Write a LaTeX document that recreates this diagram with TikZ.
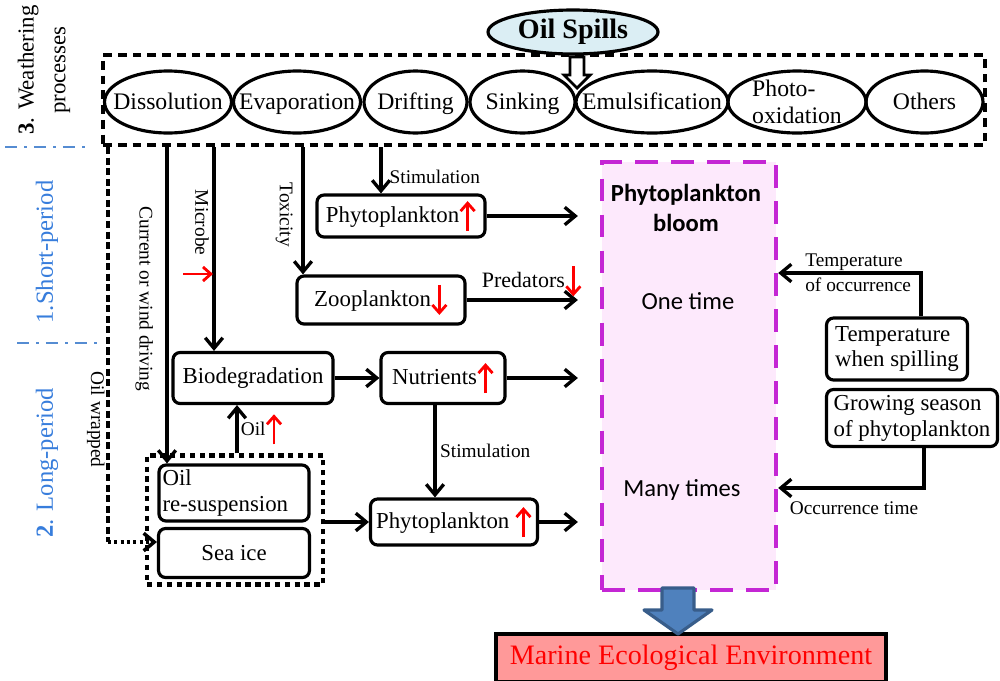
\documentclass[tikz,border=0pt]{standalone}
\usepackage{fontspec}
\setmainfont{Liberation Serif}
\newfontfamily\calib{Carlito}
\usetikzlibrary{shapes.geometric,arrows.meta}

\definecolor{spillblue}{RGB}{219,238,244}
\definecolor{bloomfill}{RGB}{253,233,252}
\definecolor{bloomedge}{RGB}{196,38,212}
\definecolor{periodblue}{RGB}{55,125,220}
\definecolor{sepblue}{RGB}{85,140,210}
\definecolor{arrowblue}{RGB}{79,129,189}
\definecolor{arrowedge}{RGB}{56,93,138}
\definecolor{marinefill}{RGB}{255,153,153}

\tikzset{
  wbox/.style={draw, line width=2.5pt, dash pattern=on 5pt off 3.4pt},
  proc/.style={ellipse, draw, line width=1.8pt, minimum height=1.24cm, inner sep=0pt},
  ptext/.style={font=\fontsize{13.5}{15.3}\selectfont, align=left, inner sep=0pt},
  pline/.style={ptext, text height=10pt, text depth=1pt},
  spill/.style={ellipse, draw, fill=spillblue, line width=1.8pt, minimum width=3.4cm,
    minimum height=0.88cm, inner sep=0pt, font=\bfseries\fontsize{16}{18}\selectfont},
  box/.style={draw, rounded corners=4pt, line width=1.8pt, font=\fontsize{13}{14.7}\selectfont, inner sep=2pt},
  grp/.style={draw, line width=2.5pt, dash pattern=on 3pt off 2.6pt},
  bloom/.style={draw=bloomedge, fill=bloomfill, line width=2.5pt, dash pattern=on 13pt off 7.5pt},
  bloomtxt/.style={font=\calib\fontsize{14}{17.5}\selectfont, align=center},
  marine/.style={draw, fill=marinefill, line width=1.8pt, text=red, font=\fontsize{16}{18}\selectfont},
  lab/.style={font=\fontsize{11}{14}\selectfont, inner sep=2pt},
  period/.style={rotate=90, text=periodblue, font=\fontsize{14}{16}\selectfont},
  sepline/.style={draw=sepblue, line width=1.4pt, dash pattern=on 7pt off 4pt on 1.5pt off 4pt},
  conn/.style={->, line width=1.9pt},
  tobloom/.style={conn, shorten >=12.5pt},
  wrapline/.style={line width=2pt, dash pattern=on 4pt off 2pt},
  wraparr/.style={->, line width=2pt, dash pattern=on 1.8pt off 1.8pt},
  redarr/.style={red, line width=1.6pt, -{Straight Barb[length=4.5pt,width=8pt]}},
  bigarrow/.style={fill=arrowblue, draw=arrowedge, line width=1.8pt, line join=round}
}

\newcommand{\upar}{\tikz[baseline=0.17cm]\draw[redarr, solid, shorten >=0pt, shorten <=0pt] (0cm,0cm) -- (0cm,0.6cm);}
\newcommand{\dnar}{\tikz[baseline=0.17cm]\draw[redarr, solid, shorten >=0pt, shorten <=0pt] (0cm,0.6cm) -- (0cm,0cm);}

\begin{document}
\begin{tikzpicture}[x=0.02cm, y=-0.02cm, >={Straight Barb[length=6pt,width=10pt]}]
  \useasboundingbox (0,0) rectangle (1000,680);

  % weathering processes
  \node[wbox, minimum width=17.64cm, minimum height=1.8cm] (weather) at (544,100) {};
  \node[proc, minimum width=2.54cm, label={[pline]center:Dissolution}] (diss) at (168,102) {};
  \node[proc, minimum width=2.54cm, label={[pline]center:Evaporation}] (evap) at (297,102) {};
  \node[proc, minimum width=2.06cm, label={[pline]center:Drifting}] (drift) at (415.5,102) {};
  \node[proc, minimum width=2.1cm, label={[pline]center:Sinking}] (sink) at (522.5,102) {};
  \node[proc, minimum width=3.04cm, label={[pline]center:Emulsification}] (emul) at (652,102) {};
  \node[proc, minimum width=2.76cm, label={[ptext]center:{Photo-\\oxidation}}] (photo) at (797,102) {};
  \node[proc, minimum width=2.34cm, label={[pline]center:Others}] (others) at (924.5,102) {};
  \node[spill] (spill) at (573,32) {Oil Spills};
  \draw[line width=1.6pt, fill=white, line join=miter] (570,57) -- (584,57) -- (584,75) -- (590,75)
    -- (577,88) -- (564,75) -- (570,75) -- cycle;

  % periods
  \node[rotate=90, align=center, font=\fontsize{13}{18}\selectfont] (wlab) at (44,70) {\textbf{3}. Weathering\\processes};
  \node[period] (short) at (47,252) {1.Short-period};
  \node[period] (long) at (47,463) {\textbf{2}. Long-period};
  \draw[sepline] (5,147) -- (90,147);
  \draw[sepline] (17,343) -- (100,343);

  % boxes
  \node[box, minimum width=3.36cm, minimum height=0.84cm] (phyto1) at (401,216) {Phytoplankton\upar};
  \node[box, minimum width=3.36cm, minimum height=0.96cm] (zoo) at (381,300) {Zooplankton\dnar};
  \node[box, minimum width=3.2cm, minimum height=1.02cm] (biodeg) at (253,378) {Biodegradation};
  \node[box, minimum width=2.48cm, minimum height=1.02cm] (nutr) at (443,378) {Nutrients\upar};
  \node[box, minimum width=3.34cm, minimum height=0.92cm] (phyto2) at (454,522) {Phytoplankton \upar};
  \node[box, text width=2.86cm, minimum height=1.12cm, align=left] (oilres) at (234,493) {Oil\\re-suspension};
  \node[box, minimum width=3.02cm, minimum height=0.98cm] (seaice) at (234,553) {Sea ice};
  \node[grp, minimum width=3.52cm, minimum height=2.58cm] (group) at (235,520) {};

  \node[bloom, minimum width=3.48cm, minimum height=8.56cm] (bloom) at (689,376) {};
  \node[bloomtxt, font=\calib\bfseries\fontsize{14}{17.5}\selectfont] (bloomt) at (686,208) {Phytoplankton\\bloom};
  \node[bloomtxt] (once) at (688,301) {One time};
  \node[bloomtxt] (many) at (682,490) {Many times};

  \node[box, minimum width=2.82cm, minimum height=1.24cm, align=left] (tspill) at (897,349) {Temperature\\when spilling};
  \node[box, minimum width=3.42cm, minimum height=1.14cm, align=left] (grow) at (912,418) {Growing season\\of phytoplankton};
  \node[marine, minimum width=7.8cm, minimum height=0.96cm] (marine) at (691,658) {Marine Ecological Environment};

  % connectors
  \coordinate (xwrap) at (108,0);
  \coordinate (xcur) at (167,0);
  \coordinate (xmic) at (214,0);
  \coordinate (xtox) at (303,0);
  \coordinate (xsti) at (381,0);
  \coordinate (xoil) at (237,0);
  \coordinate (xnut) at (435,0);
  \coordinate (wrapc) at (108,542);
  \coordinate (mred) at (213,274);

  \draw[wrapline] (weather.south -| xwrap) -- (wrapc)
    node[lab, pos=0.69, rotate=-90, anchor=north, inner ysep=1pt] {Oil wrapped};
  \draw[wraparr] (wrapc) -- (wrapc -| seaice.west);
  \draw[conn] (weather.south -| xcur) -- (xcur |- oilres.north)
    node[lab, pos=0.48, rotate=-90, anchor=north, inner ysep=7pt] {Current or wind driving};
  \draw[conn] (weather.south -| xmic) -- (xmic |- biodeg.north)
    node[lab, pos=0.37, rotate=-90, anchor=north, inner ysep=2pt] {Microbe};
  \draw[redarr] ([xshift=-0.6cm]mred) -- (mred);
  \draw[conn] (weather.south -| xtox) -- (xtox |- zoo.north)
    node[lab, pos=0.53, rotate=-90, anchor=north, inner ysep=5pt] {Toxicity};
  \draw[conn] (weather.south -| xsti) -- (xsti |- phyto1.north)
    node[lab, pos=0.64, right, inner sep=4pt] {Stimulation};

  \draw[tobloom] (phyto1.east) -- (phyto1.east -| bloom.west);
  \draw[tobloom] (zoo.east) -- (zoo.east -| bloom.west)
    node[pos=0.49, above, inner sep=1pt, font=\fontsize{12.5}{14}\selectfont] {Predators\dnar};
  \draw[tobloom] (nutr.east) -- (nutr.east -| bloom.west);
  \draw[tobloom] (phyto2.east) -- (phyto2.east -| bloom.west);

  \draw[conn] (biodeg.east) -- (nutr.west);
  \draw[conn] (xnut |- nutr.south) -- (xnut |- phyto2.north)
    node[lab, midway, right] {Stimulation};
  \draw[conn] (xoil |- group.north) -- (xoil |- biodeg.south)
    node[lab, midway, right] {Oil\upar};
  \draw[conn] (group.east |- phyto2.west) -- (phyto2.west);

  \draw[conn] ([xshift=0.48cm]tspill.north) |- ([yshift=2.06cm]bloom.east)
    node[lab, pos=0.72, align=left] {Temperature\\of occurrence};
  \draw[conn] ([xshift=0.24cm]grow.south) |- ([yshift=-2.24cm]bloom.east)
    node[lab, pos=0.74, below, inner sep=7pt] {Occurrence time};

  \draw[bigarrow] (662,588) -- (694,588) -- (694,610) -- (712,610) -- (678,634)
    -- (644,610) -- (662,610) -- cycle;
\end{tikzpicture}
\end{document}
